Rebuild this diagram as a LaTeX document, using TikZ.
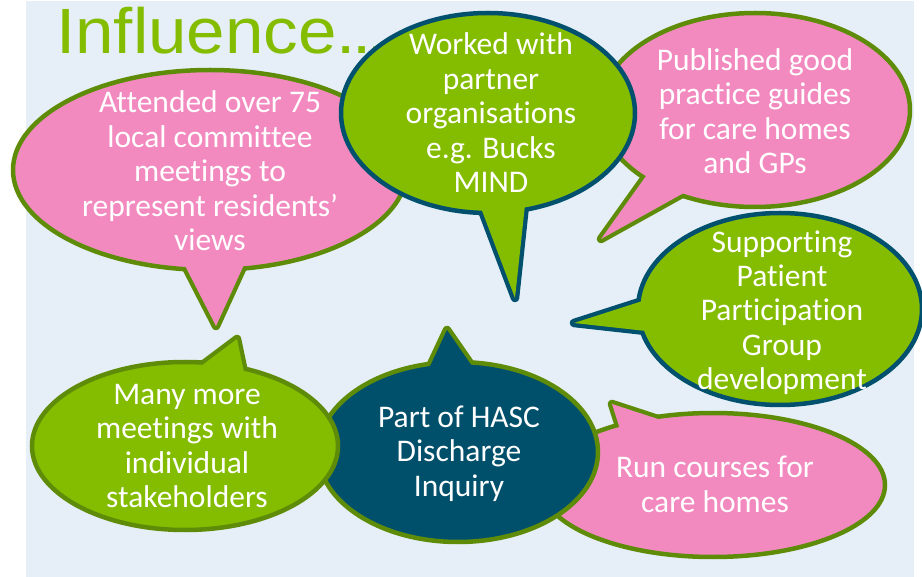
\documentclass[tikz,border=0pt]{standalone}
\usepackage{fontspec}
\setmainfont[Ligatures=NoCommon]{Carlito}
\newfontfamily\titlefont{Liberation Sans}
\usetikzlibrary{calc}
\definecolor{bgblue}{HTML}{E6EFF7}
\definecolor{lime}{HTML}{84BC00}
\definecolor{olive}{HTML}{5F8C08}
\definecolor{pinkb}{HTML}{F28AC0}
\definecolor{navy}{HTML}{00506B}
\definecolor{navyline}{HTML}{00506E}
\newcommand{\mystrut}{\rule[-7.25pt]{0pt}{34.5pt}}
% fill, stroke, center, rx, ry, base1, tip, base2
\newcommand{\bub}[8]{%
  \fill[#1, draw=#2, line width=8.5pt, line join=round]
    ($(#6)!0.1!(#3)$) -- (#7) -- ($(#8)!0.1!(#3)$) -- cycle;
  \filldraw[fill=#1, draw=#2, line width=4.5pt] (#3) ellipse [x radius=#4, y radius=#5];
  \fill[#1] ($(#6)!0.1!(#3)$) -- (#7) -- ($(#8)!0.1!(#3)$) -- cycle;
}
\tikzset{
  txt/.style={text=white, align=center, inner sep=0pt,
    font=\fontsize{31.5}{34.5}\selectfont},
}
\begin{document}
\begin{tikzpicture}[x=1pt,y=-1pt]
\useasboundingbox (0,0) rectangle (922,577);
\fill[bgblue] (26,1) rectangle (914,577);
\node[anchor=base west, inner sep=0pt, text=lime,
  font=\titlefont\fontsize{64}{70}\selectfont] (title) at (56,54)
  {\scalebox{1.08}[1]{Influence.\kern-3.5pt.\kern-3.5pt.}};

% Attended
\coordinate (cA) at (210,170);
\coordinate (a1) at (177,266); \coordinate (at) at (216,326); \coordinate (a2) at (252,266);
\bub{pinkb}{olive}{cA}{197}{100}{a1}{at}{a2}
\node[txt] (tA) at (210,172) {\mystrut Attended over 75\\\mystrut local committee\\\mystrut meetings to\\\mystrut represent residents’\\\mystrut views};

% Published
\coordinate (cP) at (755,110);
\coordinate (p1) at (642,172); \coordinate (pt) at (601,239); \coordinate (p2) at (687,196);
\bub{pinkb}{olive}{cP}{155}{97}{p1}{pt}{p2}
\node[txt] (tP) at (755,112) {\mystrut Published good\\\mystrut practice guides\\\mystrut for care homes\\\mystrut and GPs};

% Worked
\coordinate (cW) at (488,113);
\coordinate (w1) at (477,210); \coordinate (wt) at (515,298); \coordinate (w2) at (530,207);
\bub{lime}{navyline}{cW}{147}{100}{w1}{wt}{w2}
\node[txt] (tW) at (491,114) {\mystrut Worked with\\\mystrut partner\\\mystrut organisations\\\mystrut e.g. Bucks\\\mystrut MIND};

% Supporting
\coordinate (cS) at (780,309);
\coordinate (s1) at (640,296); \coordinate (st) at (574,323); \coordinate (s2) at (645,335);
\bub{lime}{navyline}{cS}{142}{96}{s1}{st}{s2}
\node[txt] (tS) at (782,311) {\mystrut Supporting\\\mystrut Patient\\\mystrut Participation\\\mystrut Group\\\mystrut development};

% Run courses
\coordinate (cR) at (713,485);
\coordinate (r1) at (611,427); \coordinate (rt) at (612,404); \coordinate (r2) at (665,416);
\bub{pinkb}{olive}{cR}{172}{72}{r1}{rt}{r2}
\node[txt] (tR) at (715,485) {\mystrut Run courses for\\\mystrut care homes};

% HASC
\coordinate (cH) at (458,452);
\coordinate (h1) at (423,365); \coordinate (ht) at (447,330); \coordinate (h2) at (478,363);
\bub{navy}{olive}{cH}{140}{90}{h1}{ht}{h2}
\node[txt] (tH) at (459,452) {\mystrut Part of HASC\\\mystrut Discharge\\\mystrut Inquiry};

% Many more
\coordinate (cM) at (185,446);
\coordinate (m1) at (195,363); \coordinate (mt) at (237,339); \coordinate (m2) at (252,371);
\bub{lime}{olive}{cM}{153}{84}{m1}{mt}{m2}
\node[txt] (tM) at (187,446) {\mystrut Many more\\\mystrut meetings with\\\mystrut individual\\\mystrut stakeholders};
\end{tikzpicture}
\end{document}
